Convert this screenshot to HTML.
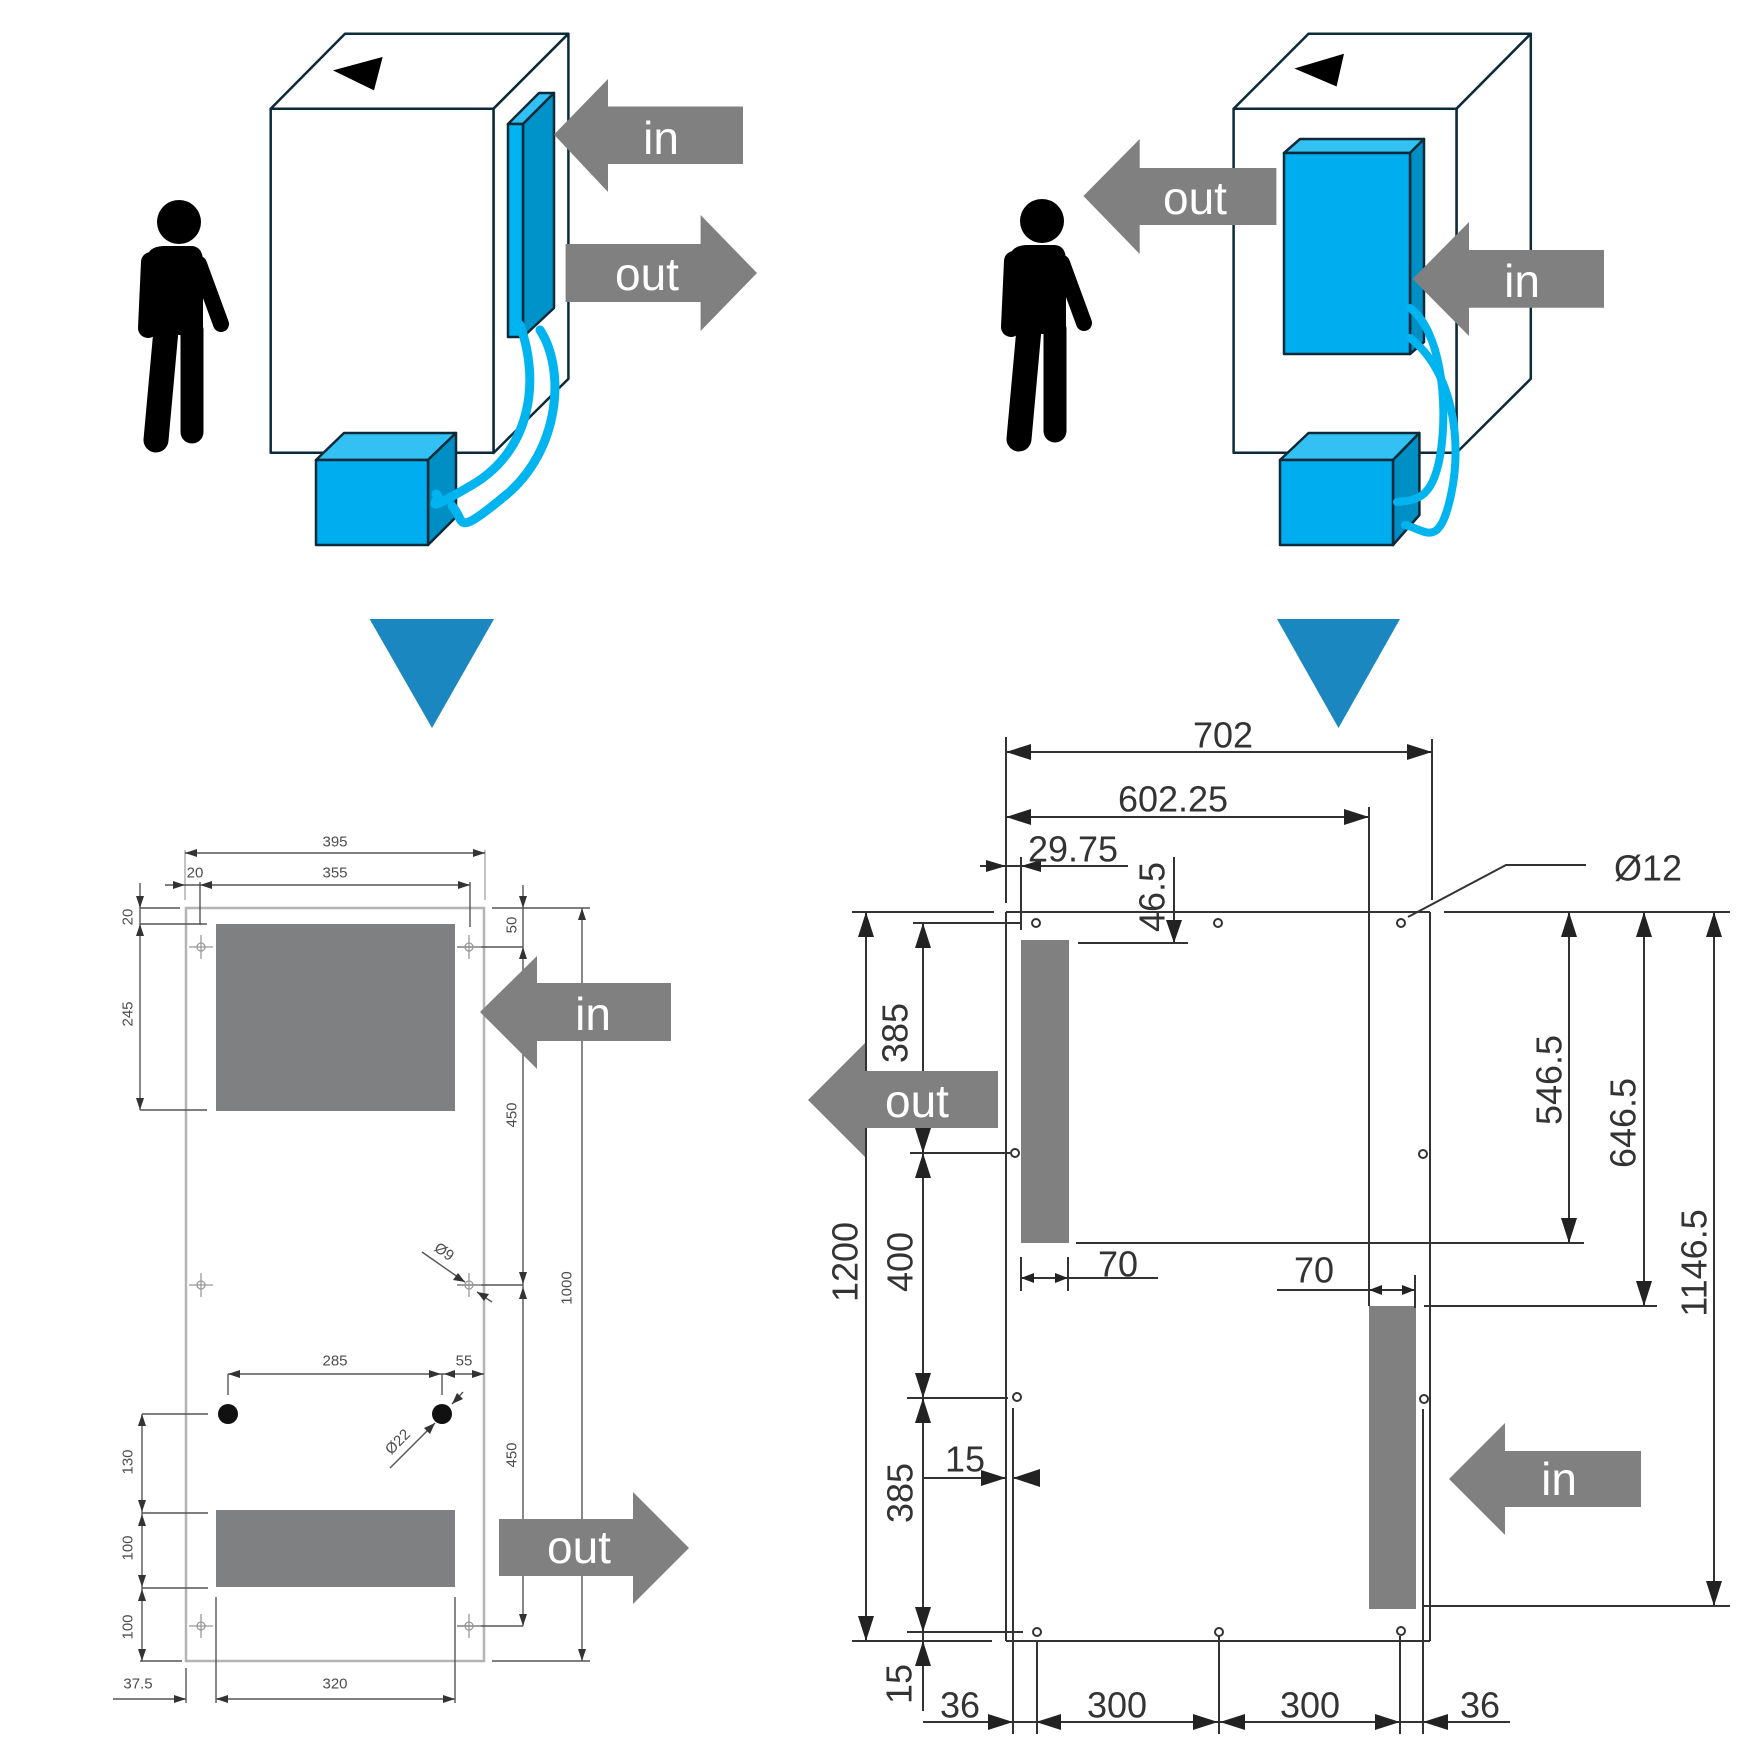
<!DOCTYPE html>
<html><head><meta charset="utf-8"><style>
html,body{margin:0;padding:0;background:#fff;}
svg{display:block;}
.ar{font-family:"Liberation Sans",sans-serif;font-size:46px;fill:#fff;text-anchor:middle;}
.d{font-family:"Liberation Sans",sans-serif;font-size:36px;fill:#333;text-anchor:middle;dominant-baseline:central;}
.s{font-family:"Liberation Sans",sans-serif;font-size:15px;fill:#4d4d4d;text-anchor:middle;dominant-baseline:central;}
</style></head><body>
<svg width="1756" height="1756" viewBox="0 0 1756 1756" xmlns="http://www.w3.org/2000/svg">
<rect width="1756" height="1756" fill="#fff"/>

<!-- ============ TOP LEFT SCENE ============ -->
<g stroke="#0b2a3a" stroke-width="2.5" stroke-linejoin="round">
  <polygon points="270.7,108.8 345,33.8 568.4,33.8 493.5,108.8" fill="#fff"/>
  <polygon points="493.5,108.8 568.4,33.8 568.4,378.8 493.5,453" fill="#fff"/>
  <rect x="270.7" y="108.8" width="222.8" height="343.9" fill="#fff"/>
  <polygon points="333,70.4 382.7,56.9 374,90.4" fill="#000" stroke="none"/>
  <!-- thin panel -->
  <polygon points="508,124 539,93 554,93 523,124" fill="#33c1f3"/>
  <polygon points="523,124 554,93 554,308 523,337" fill="#0093c9"/>
  <rect x="508" y="124" width="15" height="213" fill="#00b4f0"/>
</g>
<!-- person left -->
<g fill="#000" stroke="#000" stroke-linecap="round">
  <circle cx="179" cy="222" r="22" stroke="none"/>
  <path d="M147 256 Q150 246 165 246 L192 246 Q203 247 203 262 L203 335 L147 335 Z" stroke="none"/>
  <line x1="151" y1="262" x2="148" y2="328" stroke-width="20"/>
  <line x1="199" y1="264" x2="221" y2="324" stroke-width="16"/>
  <line x1="166" y1="330" x2="156" y2="440" stroke-width="25"/>
  <line x1="192" y1="330" x2="192" y2="432" stroke-width="23"/>
</g>
<!-- arrows -->
<polygon points="554,134.6 608,79 608,106.5 743,106.5 743,164 608,164 608,192" fill="#808080"/>
<text class="ar" x="661" y="154">in</text>
<polygon points="565.6,244 700.6,244 700.6,215 757,273 700.6,331 700.6,302 565.6,302" fill="#808080"/>
<text class="ar" x="647" y="290">out</text>
<!-- cube left -->
<g stroke="#0b2a3a" stroke-width="2.5" stroke-linejoin="round">
  <polygon points="316,460 344,433 456,433 428,460" fill="#33c1f3"/>
  <polygon points="428,460 456,433 456,517 428,545" fill="#008fc5"/>
  <rect x="316" y="460" width="112" height="85" fill="#00aeef"/>
</g>
<g fill="none" stroke="#00b4f0" stroke-width="9" stroke-linecap="round">
  <path d="M520 325 C540 380 532 450 472 485 S445 497 436 494"/>
  <path d="M540 330 C566 370 560 450 506 495 S466 520 452 506"/>
</g>

<!-- ============ TOP RIGHT SCENE ============ -->
<g stroke="#0b2a3a" stroke-width="2.5" stroke-linejoin="round">
  <polygon points="1233.6,108.8 1308.5,33.8 1530.8,33.8 1456.5,108.8" fill="#fff"/>
  <polygon points="1456.5,108.8 1530.8,33.8 1530.8,378.8 1456.5,452.7" fill="#fff"/>
  <rect x="1233.6" y="108.8" width="222.9" height="343.9" fill="#fff"/>
  <polygon points="1294.4,68.5 1344,53.8 1336.6,86.5" fill="#000" stroke="none"/>
  <polygon points="1284,153 1300,139 1424,139 1410,153" fill="#33c1f3"/>
  <polygon points="1410,153 1424,139 1424,342 1410,354" fill="#008fc5"/>
  <rect x="1284" y="153" width="126" height="201" fill="#00aeef"/>
</g>
<g fill="#000" stroke="#000" stroke-linecap="round" transform="translate(863,-1)">
  <circle cx="179" cy="222" r="22" stroke="none"/>
  <path d="M147 256 Q150 246 165 246 L192 246 Q203 247 203 262 L203 335 L147 335 Z" stroke="none"/>
  <line x1="151" y1="262" x2="148" y2="328" stroke-width="20"/>
  <line x1="199" y1="264" x2="221" y2="324" stroke-width="16"/>
  <line x1="166" y1="330" x2="156" y2="440" stroke-width="25"/>
  <line x1="192" y1="330" x2="192" y2="432" stroke-width="23"/>
</g>
<polygon points="1083.4,196 1139.7,139 1139.7,168 1276.4,168 1276.4,225 1139.7,225 1139.7,254" fill="#808080"/>
<text class="ar" x="1195" y="214">out</text>
<polygon points="1412.6,279 1469,222 1469,250 1604,250 1604,307.7 1469,307.7 1469,336" fill="#808080"/>
<text class="ar" x="1522" y="297">in</text>
<g stroke="#0b2a3a" stroke-width="2.5" stroke-linejoin="round">
  <polygon points="1280,460 1308.5,433 1419.4,433 1393,460" fill="#33c1f3"/>
  <polygon points="1393,460 1419.4,433 1419.4,515 1393,545" fill="#008fc5"/>
  <rect x="1280" y="460" width="113" height="85" fill="#00aeef"/>
</g>
<g fill="none" stroke="#00b4f0" stroke-width="8" stroke-linecap="round">
  <path d="M1410 308 C1440 330 1448 400 1441 450 S1416 500 1397 502"/>
  <path d="M1410 338 C1452 370 1463 440 1451 495 S1426 530 1405 525"/>
</g>

<!-- blue down triangles -->
<polygon points="369.6,619 494,619 432,728" fill="#1b87c1"/>
<polygon points="1277,619 1400,619 1338.5,728" fill="#1b87c1"/>

<!-- ============ BOTTOM LEFT DRAWING ============ -->
<g fill="#7f8082">
  <rect x="216" y="924" width="239" height="187"/>
  <rect x="216" y="1510" width="239" height="77"/>
</g>
<rect x="186" y="908" width="298" height="753" fill="none" stroke="#b4b4b4" stroke-width="2.5"/>
<g stroke="#555" stroke-width="1.4" fill="none">
  <!-- ext lines -->
  <line x1="140" y1="908" x2="180" y2="908"/>
  <line x1="492" y1="908" x2="590" y2="908"/>
  <line x1="140" y1="1661" x2="182" y2="1661"/>
  <line x1="492" y1="1661" x2="590" y2="1661"/>
  <line x1="185" y1="850" x2="185" y2="900" stroke="#aaa"/>
  <line x1="485" y1="850" x2="485" y2="900" stroke="#aaa"/>
  <line x1="200" y1="882" x2="200" y2="925"/>
  <line x1="470" y1="882" x2="470" y2="927"/>
  <line x1="140" y1="924" x2="207" y2="924"/>
  <line x1="140" y1="1110" x2="207" y2="1110"/>
  <line x1="457" y1="947" x2="523" y2="947"/>
  <line x1="457" y1="1285" x2="523" y2="1285"/>
  <line x1="457" y1="1626" x2="523" y2="1626"/>
  <line x1="142" y1="1414" x2="208" y2="1414"/>
  <line x1="142" y1="1513" x2="208" y2="1513"/>
  <line x1="142" y1="1588" x2="208" y2="1588"/>
  <line x1="228" y1="1374" x2="228" y2="1395"/>
  <line x1="442" y1="1374" x2="442" y2="1395"/>
  <line x1="216" y1="1597" x2="216" y2="1703"/>
  <line x1="455" y1="1597" x2="455" y2="1703"/>
  <line x1="186" y1="1668" x2="186" y2="1703"/>
  <!-- dim lines -->
  <line x1="185" y1="853" x2="485" y2="853"/>
  <line x1="165" y1="885" x2="470" y2="885"/>
  <line x1="140" y1="883" x2="140" y2="1110"/>
  <line x1="523" y1="885" x2="523" y2="1626"/>
  <line x1="582" y1="908" x2="582" y2="1661"/>
  <line x1="228" y1="1374" x2="484" y2="1374"/>
  <line x1="142" y1="1414" x2="142" y2="1661"/>
  <line x1="113" y1="1699" x2="186" y2="1699"/>
  <line x1="216" y1="1699" x2="455" y2="1699"/>
  <line x1="390" y1="1468" x2="435" y2="1423"/>
  <line x1="463" y1="1392" x2="452" y2="1404"/>
  <line x1="422" y1="1252" x2="465" y2="1282"/>
  <line x1="477" y1="1292" x2="492" y2="1302"/>
</g>
<!-- crosshairs -->
<g stroke="#999" stroke-width="1.3" fill="none">
  <circle cx="201" cy="947" r="4"/><line x1="189" y1="947" x2="213" y2="947"/><line x1="201" y1="935" x2="201" y2="959"/>
  <circle cx="469" cy="947" r="4"/><line x1="457" y1="947" x2="481" y2="947"/><line x1="469" y1="935" x2="469" y2="959"/>
  <circle cx="201" cy="1285" r="4"/><line x1="189" y1="1285" x2="213" y2="1285"/><line x1="201" y1="1273" x2="201" y2="1297"/>
  <circle cx="469" cy="1285" r="4"/><line x1="457" y1="1285" x2="481" y2="1285"/><line x1="469" y1="1273" x2="469" y2="1297"/>
  <circle cx="201" cy="1626" r="4"/><line x1="189" y1="1626" x2="213" y2="1626"/><line x1="201" y1="1614" x2="201" y2="1638"/>
  <circle cx="469" cy="1626" r="4"/><line x1="457" y1="1626" x2="481" y2="1626"/><line x1="469" y1="1614" x2="469" y2="1638"/>
</g>
<circle cx="228" cy="1414" r="10" fill="#111"/>
<circle cx="442" cy="1414" r="10" fill="#111"/>
<g fill="#333">
  <polygon points="185,853 197,849 197,857"/><polygon points="485,853 473,849 473,857"/>
  <polygon points="200,885 212,881 212,889"/><polygon points="470,885 458,881 458,889"/>
  <polygon points="185,885 173,881 173,889"/>
  <polygon points="140,908 136,896 144,896"/><polygon points="140,924 136,936 144,936"/>
  <polygon points="140,1110 136,1098 144,1098"/>
  <polygon points="523,908 519,896 527,896"/><polygon points="523,947 519,959 527,959"/>
  <polygon points="523,1284 519,1272 527,1272"/><polygon points="523,1287 519,1299 527,1299"/>
  <polygon points="523,1626 519,1614 527,1614"/>
  <polygon points="582,908 578,920 586,920"/><polygon points="582,1661 578,1649 586,1649"/>
  <polygon points="228,1374 240,1370 240,1378"/><polygon points="441,1374 429,1370 429,1378"/>
  <polygon points="444,1374 455,1370 455,1378"/><polygon points="484,1374 472,1370 472,1378"/>
  <polygon points="142,1414 138,1426 146,1426"/><polygon points="142,1512 138,1500 146,1500"/>
  <polygon points="142,1514 138,1526 146,1526"/><polygon points="142,1587 138,1575 146,1575"/>
  <polygon points="142,1589 138,1601 146,1601"/><polygon points="142,1661 138,1649 146,1649"/>
  <polygon points="186,1699 174,1695 174,1703"/>
  <polygon points="216,1699 228,1695 228,1703"/><polygon points="455,1699 443,1695 443,1703"/>
  <polygon points="435,1423 424,1428 430,1434"/><polygon points="452,1404 463,1399 457,1393"/>
  <polygon points="465,1282 453,1280 458,1273"/><polygon points="477,1292 489,1294 484,1301"/>
</g>
<text class="s" x="335" y="842">395</text>
<text class="s" x="195" y="873">20</text>
<text class="s" x="335" y="873">355</text>
<text class="s" transform="translate(128,917) rotate(-90)">20</text>
<text class="s" transform="translate(128,1014) rotate(-90)">245</text>
<text class="s" transform="translate(512,925) rotate(-90)">50</text>
<text class="s" transform="translate(512,1115) rotate(-90)">450</text>
<text class="s" transform="translate(567,1288) rotate(-90)">1000</text>
<text class="s" transform="translate(444,1252) rotate(35)">Ø9</text>
<text class="s" x="335" y="1361">285</text>
<text class="s" x="464" y="1361">55</text>
<text class="s" transform="translate(398,1442) rotate(-45)">Ø22</text>
<text class="s" transform="translate(512,1455) rotate(-90)">450</text>
<text class="s" transform="translate(128,1462) rotate(-90)">130</text>
<text class="s" transform="translate(128,1548) rotate(-90)">100</text>
<text class="s" transform="translate(128,1627) rotate(-90)">100</text>
<text class="s" x="138" y="1684">37.5</text>
<text class="s" x="335" y="1684">320</text>
<!-- arrows bottom left -->
<polygon points="480,1012 537,956 537,983 671,983 671,1041 537,1041 537,1069" fill="#808080"/>
<text class="ar" x="593" y="1030">in</text>
<polygon points="499,1519 633,1519 633,1492 689,1548 633,1604 633,1576 499,1576" fill="#808080"/>
<text class="ar" x="579" y="1563">out</text>

<!-- ============ BOTTOM RIGHT DRAWING ============ -->
<g fill="#808080">
  <rect x="1021" y="940" width="48" height="303"/>
  <rect x="1369" y="1306" width="47" height="303"/>
</g>
<g stroke="#333" stroke-width="2" fill="none">
  <!-- plate -->
  <line x1="1006" y1="912" x2="1430" y2="912"/>
  <line x1="852" y1="912" x2="994" y2="912"/>
  <line x1="1444" y1="912" x2="1730" y2="912"/>
  <line x1="1006" y1="737" x2="1006" y2="903"/>
  <line x1="1006" y1="912" x2="1006" y2="1641"/>
  <line x1="1432" y1="739" x2="1432" y2="900"/>
  <line x1="1430" y1="912" x2="1430" y2="1641"/>
  <line x1="1006" y1="1641" x2="1430" y2="1641"/>
  <line x1="852" y1="1641" x2="992" y2="1641"/>
  <line x1="1013" y1="1408" x2="1013" y2="1734"/>
  <line x1="1423" y1="1409" x2="1423" y2="1734"/>
  <line x1="1021" y1="857" x2="1021" y2="930"/>
  <line x1="1369" y1="807" x2="1369" y2="1306"/>
  <line x1="913" y1="923" x2="1022" y2="923"/>
  <line x1="910" y1="1153" x2="1010" y2="1153"/>
  <line x1="907" y1="1398" x2="1008" y2="1398"/>
  <line x1="907" y1="1632" x2="1023" y2="1632"/>
  <line x1="1078" y1="943" x2="1188" y2="943"/>
  <line x1="1076" y1="1243" x2="1584" y2="1243"/>
  <line x1="1424" y1="1306" x2="1657" y2="1306"/>
  <line x1="1423" y1="1606" x2="1730" y2="1606"/>
  <line x1="1037" y1="1641" x2="1037" y2="1734"/>
  <line x1="1219" y1="1636" x2="1219" y2="1734"/>
  <line x1="1400" y1="1636" x2="1400" y2="1734"/>
  <!-- dim lines -->
  <line x1="1006" y1="752" x2="1432" y2="752"/>
  <line x1="1006" y1="817" x2="1369" y2="817"/>
  <line x1="980" y1="866" x2="1128" y2="866"/>
  <line x1="1174" y1="857" x2="1174" y2="943"/>
  <line x1="866" y1="912" x2="866" y2="1641"/>
  <line x1="923" y1="923" x2="923" y2="1711"/>
  <line x1="923" y1="1478" x2="1006" y2="1478"/>
  <line x1="1013" y1="1478" x2="1040" y2="1478"/>
  <line x1="1021" y1="1257" x2="1021" y2="1291"/>
  <line x1="1068" y1="1257" x2="1068" y2="1291"/>
  <line x1="1021" y1="1278" x2="1158" y2="1278"/>
  <line x1="1415" y1="1275" x2="1415" y2="1308"/>
  <line x1="1277" y1="1290" x2="1415" y2="1290"/>
  <line x1="1569" y1="912" x2="1569" y2="1243"/>
  <line x1="1644" y1="912" x2="1644" y2="1306"/>
  <line x1="1714" y1="912" x2="1714" y2="1606"/>
  <line x1="923" y1="1722" x2="1510" y2="1722"/>
  <polyline points="1408,917 1506,865 1586,865"/>
  <!-- holes -->
  <circle cx="1036" cy="923" r="4"/><circle cx="1218" cy="923" r="4"/><circle cx="1401" cy="923" r="4"/>
  <circle cx="1015" cy="1153" r="4"/><circle cx="1423" cy="1154" r="4"/>
  <circle cx="1017" cy="1397" r="4"/><circle cx="1424" cy="1399" r="4"/>
  <circle cx="1037" cy="1632" r="4"/><circle cx="1219" cy="1632" r="4"/><circle cx="1401" cy="1631" r="4"/>
</g>
<g fill="#222">
  <polygon points="1006,752 1031,744 1031,760"/><polygon points="1432,752 1407,744 1407,760"/>
  <polygon points="1006,817 1031,809 1031,825"/><polygon points="1369,817 1344,809 1344,825"/>
  <polygon points="1006,866 986,860 986,872"/><polygon points="1021,866 1041,860 1041,872"/>
  <polygon points="1174,943 1166,920 1182,920"/>
  <polygon points="866,912 858,937 874,937"/><polygon points="866,1641 858,1616 874,1616"/>
  <polygon points="923,923 915,948 931,948"/><polygon points="923,1153 915,1128 931,1128"/>
  <polygon points="923,1153 915,1178 931,1178"/><polygon points="923,1398 915,1373 931,1373"/>
  <polygon points="923,1398 915,1423 931,1423"/><polygon points="923,1632 915,1607 931,1607"/>
  <polygon points="923,1641 915,1666 931,1666"/>
  <polygon points="1006,1478 981,1470 981,1486"/><polygon points="1013,1478 1040,1469 1040,1487"/>
  <polygon points="1021,1278 1034,1273 1034,1283"/><polygon points="1068,1278 1055,1273 1055,1283"/>
  <polygon points="1369,1290 1382,1285 1382,1295"/><polygon points="1415,1290 1402,1285 1402,1295"/>
  <polygon points="1569,912 1561,937 1577,937"/><polygon points="1569,1243 1561,1218 1577,1218"/>
  <polygon points="1644,912 1636,937 1652,937"/><polygon points="1644,1306 1636,1281 1652,1281"/>
  <polygon points="1714,912 1706,937 1722,937"/><polygon points="1714,1606 1706,1581 1722,1581"/>
  <polygon points="1013,1722 988,1714 988,1730"/><polygon points="1036,1722 1061,1714 1061,1730"/>
  <polygon points="1218,1722 1193,1714 1193,1730"/><polygon points="1220,1722 1245,1714 1245,1730"/>
  <polygon points="1400,1722 1375,1714 1375,1730"/><polygon points="1423,1722 1448,1714 1448,1730"/>
</g>
<text class="d" x="1223" y="735">702</text>
<text class="d" x="1173" y="799">602.25</text>
<text class="d" x="1073" y="849">29.75</text>
<text class="d" transform="translate(1152,897) rotate(-90)">46.5</text>
<text class="d" x="1648" y="868">Ø12</text>
<text class="d" transform="translate(895,1033) rotate(-90)">385</text>
<text class="d" transform="translate(845,1262) rotate(-90)">1200</text>
<text class="d" transform="translate(900,1262) rotate(-90)">400</text>
<text class="d" transform="translate(900,1493) rotate(-90)">385</text>
<text class="d" transform="translate(899,1684) rotate(-90)">15</text>
<text class="d" x="1118" y="1264">70</text>
<text class="d" x="1314" y="1270">70</text>
<text class="d" x="965" y="1459">15</text>
<text class="d" transform="translate(1549,1080) rotate(-90)">546.5</text>
<text class="d" transform="translate(1623,1123) rotate(-90)">646.5</text>
<text class="d" transform="translate(1694,1263) rotate(-90)">1146.5</text>
<text class="d" x="960" y="1705">36</text>
<text class="d" x="1117" y="1705">300</text>
<text class="d" x="1310" y="1705">300</text>
<text class="d" x="1480" y="1705">36</text>
<!-- arrows bottom right -->
<polygon points="808,1100 865,1043 865,1071 998,1071 998,1128 865,1128 865,1157" fill="#808080"/>
<text class="ar" x="917" y="1117">out</text>
<polygon points="1449,1479 1505,1423 1505,1451 1641,1451 1641,1507 1505,1507 1505,1535" fill="#808080"/>
<text class="ar" x="1559" y="1495">in</text>
</svg>
</body></html>
